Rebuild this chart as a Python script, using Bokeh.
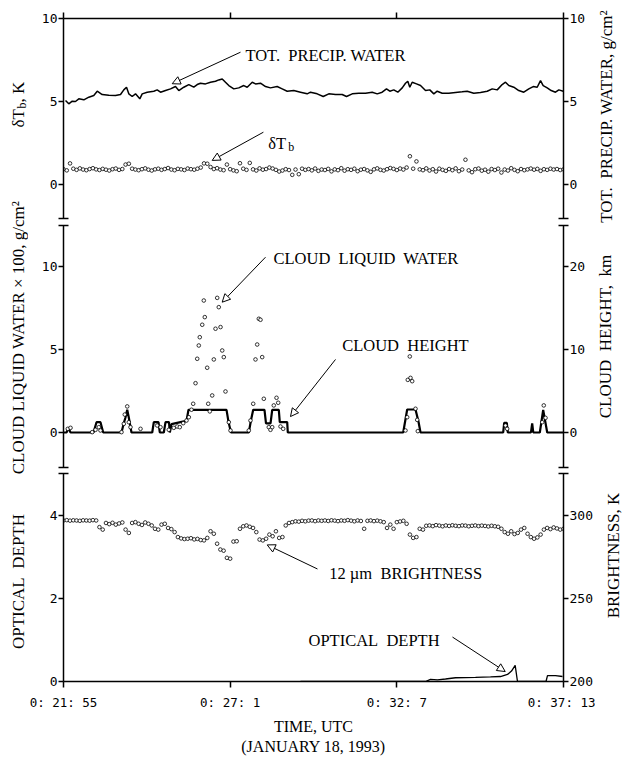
import math
from bokeh.plotting import figure
from bokeh.layouts import column, row
from bokeh.models import Range1d, LinearAxis, FixedTicker, Label, Arrow, NormalHead
from bokeh.embed import file_html
from bokeh.resources import INLINE

# ---------------- data (time in seconds after 0:21:55 UTC) ----------------
X_TICKS = [0, 306, 612, 918]
X_TICK_LABELS = ["0: 21: 55", "0: 27: 1", "0: 32: 7", "0: 37: 13"]

# total precipitable water, g/cm^2
tpw_t = [3.7, 9.7, 16.0, 22.0, 28.1, 37.3, 46.5, 55.6, 61.9, 71.0,
         83.2, 95.5, 104.7, 110.7, 115.7, 119.9, 126.1, 132.2, 140.1, 144.5,
         153.7, 165.8, 172.0, 178.1, 187.3, 196.5, 205.6, 211.7, 220.9, 230.1,
         239.2, 245.5, 251.5, 260.7, 269.9, 279.1, 285.1, 291.4, 297.4, 303.5,
         312.7, 321.8, 331.0, 337.3, 346.5, 352.5, 361.7, 370.9, 380.0, 392.3,
         401.5, 410.7, 422.8, 435.1, 447.4,
         453.5, 465.8, 476.8, 487.1, 499.4, 511.7, 519.6, 530.1, 542.2, 554.5,
         566.8, 576.0, 585.1, 593.0, 599.1, 606.4, 613.8, 621.9, 627.9, 632.1,
         635.8, 640.2, 648.1, 655.5, 664.7, 672.5, 679.9, 686.1, 695.3, 707.4,
         719.7, 732.0, 741.2, 753.3, 765.6, 777.9, 787.1, 796.3, 805.4, 811.5,
         817.6, 826.7, 835.9, 845.1, 854.3, 862.4, 869.7, 875.8, 880.7, 888.1,
         895.4, 903.3, 909.4, 917.5]
tpw_v = [5.06, 4.86, 5.02, 5.00, 5.16, 5.10, 5.26, 5.36, 5.62, 5.42,
         5.38, 5.36, 5.42, 5.70, 5.86, 5.46, 5.30, 5.46, 5.16, 5.46,
         5.56, 5.62, 5.70, 5.56, 5.66, 5.76, 5.90, 5.66, 5.86, 6.02,
         5.86, 6.02, 6.10, 6.06, 6.16, 6.22, 6.30, 6.36, 6.16, 5.96,
         5.76, 5.82, 5.96, 5.86, 6.16, 6.06, 6.10, 5.90, 5.82, 5.90,
         5.76, 5.62, 5.66, 5.56, 5.46,
         5.56, 5.46, 5.30, 5.46, 5.42, 5.42, 5.30, 5.46, 5.50, 5.50,
         5.56, 5.46, 5.56, 5.76, 5.62, 5.70, 5.56, 5.82, 6.10, 6.22,
         5.86, 6.16, 6.06, 5.96, 5.66, 5.70, 5.46, 5.62, 5.50, 5.50,
         5.54, 5.58, 5.62, 5.50, 5.54, 5.62, 5.76, 5.70, 6.02, 6.16,
         5.96, 5.86, 5.66, 5.56, 5.76, 5.90, 5.86, 6.26, 5.96, 5.82,
         5.66, 5.56, 5.70, 5.62]

# delta Tb, K  (one sample every 6 s)
DTB_STEP = 6
dtb_v = [0.92, 0.85, 1.27, 0.95, 0.88, 0.97, 0.90, 0.86, 0.93, 0.98,
         0.91, 0.87, 0.94, 0.89, 0.84, 0.92, 0.96, 0.88, 0.93, 1.20,
         1.25, 0.95, 0.90, 0.86, 0.92, 0.97, 0.89, 0.84, 0.91, 0.95,
         0.88, 0.93, 0.99, 0.90, 0.86, 0.94, 0.91, 0.87, 0.96, 0.92,
         0.89, 0.95, 1.02, 1.27, 1.25, 1.05, 0.93, 0.98, 0.90, 0.86,
         1.20, 0.92, 0.85, 0.80, 1.28, 0.95, 0.88, 1.30, 0.91, 0.84,
         0.97, 0.89, 0.93, 1.02, 0.96, 0.88, 0.78, 0.84, 0.92, 0.87,
         0.58, 0.90, 0.62, 0.95, 0.88, 0.93, 0.85, 0.96, 0.82, 0.90,
         0.87, 0.94, 0.79, 0.91, 0.86, 0.98, 0.83, 0.92, 0.88, 0.95,
         0.80, 0.89, 0.93, 0.85, 0.76, 0.91, 0.97, 0.88, 0.84, 0.92,
         0.99, 0.94, 0.87, 0.96, 0.90, 1.02, 1.70, 0.95, 1.39, 0.91,
         0.86, 0.97, 0.84, 0.92, 0.78, 0.95, 0.88, 0.82, 0.93, 0.86,
         0.97, 0.80, 0.90, 1.49, 0.85, 0.74, 0.92, 0.96, 0.83, 0.89,
         0.77, 0.93, 0.87, 0.95, 0.72, 0.90, 0.84, 0.98, 0.88, 0.80,
         0.93, 0.86, 0.91, 0.96, 0.89, 0.94, 0.82, 0.92, 0.88, 0.95,
         0.90, 0.93, 0.87, 0.91]

# cloud liquid water x 100, g/cm^2
clw_t = [7.9, 12.9, 52.7, 58.8, 64.8, 67.9, 106.5, 110.7, 112.5, 117.0,
         119.9, 123.0, 141.4, 172.0, 178.1, 193.3, 202.5, 208.8, 213.5, 219.8,
         225.8, 230.1, 235.0, 238.1, 242.4, 245.5, 248.4, 250.2, 254.7, 257.6,
         259.4, 263.8, 265.7, 268.6, 273.0, 276.0, 279.1, 282.2, 285.1, 288.3,
         291.4, 294.3, 297.4, 303.5, 306.6, 340.2, 343.3, 348.3, 352.5, 355.6,
         358.6, 361.7, 364.8, 367.8, 376.9, 380.0, 383.2, 386.1, 391.1, 394.2,
         398.4, 403.4, 627.9, 631.0, 632.1, 635.8, 637.1, 640.2, 646.3, 649.4,
         650.5, 811.5, 814.6, 878.9, 881.8, 885.0]
clw_v = [0.22, 0.28, 0.02, 0.16, 0.32, 0.12, 0.02, 0.52, 1.08, 1.57,
         0.62, 0.32, 0.22, 0.42, 0.32, 0.16, 0.28, 0.36, 0.32, 0.56,
         0.72, 0.92, 1.37, 1.73, 2.97, 4.44, 5.24, 5.74, 6.49, 7.95,
         6.95, 3.90, 1.73, 1.27, 2.23, 4.40, 6.25, 8.11, 7.55, 6.35,
         4.94, 4.54, 2.47, 0.62, 0.12, 0.12, 0.72, 1.73, 4.40, 5.30,
         6.85, 6.79, 4.54, 2.03, 0.32, 0.16, 0.32, 1.63, 2.09, 1.79,
         0.36, 0.22, 0.12, 0.92, 3.17, 4.58, 3.29, 3.09, 1.43, 0.76,
         0.08, 0.42, 0.22, 0.62, 1.63, 0.88]

# cloud height, km
ch_t = [0, 5.5, 9.2, 12.9, 55.1, 60.6, 67.9, 72.9, 106.5, 110.2,
        113.8, 117.0, 119.9, 122.1, 124.8, 162.9, 165.8, 174.4, 176.8, 184.2,
        187.3, 193.7, 195.2, 198.3, 214.8, 225.8, 229.5, 299.3, 302.9, 307.5,
        340.2, 344.3, 348.3, 369.0, 371.8, 380.1, 383.2, 395.3, 397.1, 410.7,
        411.8, 623.7, 631.0, 646.3, 651.8, 655.5, 807.3, 809.1, 813.9, 815.7,
        858.3, 860.5, 862.5, 874.5, 880.7, 888.1, 918]
ch_v = [0, 0, 0.5, 0, 0, 1.24, 1.24, 0, 0, 1.0,
        1.8, 2.73, 1.8, 1.0, 0, 0, 1.24, 1.24, 0, 0,
        1.24, 1.24, 0, 1.0, 1.24, 1.4, 2.73, 2.73, 1.3, 0,
        0, 1.5, 2.73, 2.73, 1.1, 1.1, 2.73, 2.73, 1.24, 1.24,
        0, 0, 2.77, 2.77, 1.3, 0, 0, 1.16, 1.16, 0,
        0, 1.1, 0, 0, 2.73, 0, 0]

# 12 um brightness temperature, K (one sample every 6 s)
TB_STEP = 6
tb_v = [297.0, 297.2, 296.9, 297.1, 297.0, 296.8, 297.1, 297.0, 296.9, 297.2,
        297.0, 293.0, 291.5, 295.5, 294.8, 295.6, 294.5, 295.2, 295.8, 291.5,
        289.5, 295.5, 296.0, 295.0, 294.3, 295.8, 295.0, 294.0, 292.0, 291.5,
        294.5, 295.0, 292.5, 291.8, 290.0, 287.0, 286.2, 285.8, 286.0, 286.3,
        285.6, 285.9, 285.2, 285.0, 286.5, 290.5, 289.0, 283.0, 279.5, 278.8,
        274.5, 274.0, 284.3, 284.5, 292.0, 293.5, 294.0, 293.2, 292.5, 290.0,
        285.5, 285.0, 286.0, 288.5, 287.5, 290.5, 286.5, 287.0, 294.0, 295.5,
        296.0, 296.5, 296.3, 296.8, 296.5, 296.9, 297.0, 296.6, 297.0, 296.8,
        297.0, 296.7, 297.1, 296.9, 296.6, 297.0, 296.8, 297.2, 296.9, 296.5,
        297.0, 296.7, 292.0, 296.8, 297.0, 296.6, 296.9, 296.5, 296.0, 292.5,
        294.5, 292.0, 296.0, 296.4, 296.8, 295.0, 288.5, 286.5, 287.0, 292.0,
        291.5, 293.8, 294.0, 293.6, 294.2, 293.9, 293.5, 294.0, 293.7, 294.1,
        293.8, 293.6, 294.0, 293.9, 293.5, 293.8, 294.0, 293.6, 293.9, 293.7,
        293.4, 293.8, 293.5, 293.2, 292.0, 290.0, 289.0, 290.5, 288.8, 289.5,
        291.5, 292.5, 289.0, 287.0, 286.0, 286.8, 288.5, 291.5, 292.5, 291.8,
        292.8, 292.2, 291.5, 292.0]

# optical depth
od_t = [435.1, 664.6, 673.8, 686.7, 701.4, 719.7, 756.4, 784.0, 802.3, 815.2,
        822.5, 829.3, 833.5, 885.9, 888.6, 903.3, 916.2]
od_v = [0.0, 0.0, 0.05, 0.04, 0.06, 0.09, 0.10, 0.11, 0.12, 0.17,
        0.25, 0.39, 0.0, 0.0, 0.14, 0.14, 0.12]

dtb_t = [i * DTB_STEP for i in range(len(dtb_v))]
tb_t = [i * TB_STEP for i in range(len(tb_v))]

# ---------------- styling helpers ----------------
SERIF = "Liberation Serif"
TICKFONT = "DejaVu Sans Mono"
TITLE_SIZE = "17px"
NOTE_SIZE = "16.5px"
SP = "\u00a0 "  # wide word gap as printed
xr = Range1d(0, 918)
LEFT_STRIP = 28
LEFT_BORDER = 63 - LEFT_STRIP
RIGHT_BORDER = 31
RIGHT_STRIP = 624 - 63 - 500 - RIGHT_BORDER


def make_fig(fh, top, bottom, yr, ryr):
    p = figure(frame_width=500, frame_height=fh, x_range=xr, y_range=yr,
               min_border_left=LEFT_BORDER, min_border_right=RIGHT_BORDER,
               min_border_top=top, min_border_bottom=bottom,
               x_axis_location=None, y_axis_location=None,
               toolbar_location=None, output_backend="svg",
               outline_line_color=None, background_fill_color="white",
               border_fill_color="white")
    p.extra_y_ranges = {"r": ryr}
    p.grid.visible = False
    return p


def yaxis(p, side, rname, ticks, minor):
    ax = LinearAxis(y_range_name=rname,
                    ticker=FixedTicker(ticks=ticks, minor_ticks=minor))
    ax.axis_line_width = 1.5
    ax.axis_line_color = "black"
    ax.major_tick_in = 0
    ax.major_tick_out = 5
    ax.major_tick_line_width = 1.5
    ax.minor_tick_in = 5
    ax.minor_tick_out = 5
    ax.minor_tick_line_width = 1.5
    ax.major_label_standoff = 1
    ax.major_label_text_font = TICKFONT
    ax.major_label_text_font_size = "13px"
    ax.major_label_text_color = "black"
    p.add_layout(ax, side)
    return ax


def label(p, x, y, text, size=NOTE_SIZE, **kw):
    p.add_layout(Label(x=x, y=y, text=text, text_font=SERIF, text_font_size=size,
                       text_color="black", text_baseline="alphabetic", **kw))


def arrow(p, x0, y0, x1, y1):
    p.add_layout(Arrow(x_start=x0, y_start=y0, x_end=x1, y_end=y1,
                       line_color="black", line_width=1,
                       end=NormalHead(size=8, fill_color="white",
                                      line_color="black", line_width=1)))


def scatter(p, x, y, **kw):
    p.scatter(x, y, marker="circle", size=3.6, fill_color="white",
              line_color="black", line_width=0.8, **kw)


def strip_fig(w):
    s = figure(width=w, height=757, x_range=Range1d(0, w),
               y_range=Range1d(757, 0), min_border_left=0, min_border_right=0,
               min_border_top=0, min_border_bottom=0,
               x_axis_location=None, y_axis_location=None,
               toolbar_location=None, output_backend="svg",
               outline_line_color=None, background_fill_color="white",
               border_fill_color="white")
    s.grid.visible = False
    return s


def vtext(s, x, y, text, size=TITLE_SIZE, align="center"):
    s.add_layout(Label(x=x, y=y, text=text, angle=math.pi / 2,
                       text_align=align, text_baseline="middle",
                       text_font=SERIF, text_font_size=size, text_color="black"))


# ---------------- top panel ----------------
top = make_fig(200, 18, 3, Range1d(-2.05, 10), Range1d(-2.05, 10))
ax_top = LinearAxis(ticker=FixedTicker(ticks=X_TICKS), major_tick_in=0, major_tick_out=6,
                    major_tick_line_width=1.5, axis_line_width=1.5,
                    major_label_overrides={t: "" for t in X_TICKS})
top.add_layout(ax_top, "above")
yaxis(top, "left", "default", [0, 5, 10], [-2.04])
yaxis(top, "right", "r", [0, 5, 10], [-2.04])
top.line(tpw_t, tpw_v, line_color="black", line_width=1.5)
scatter(top, dtb_t, dtb_v)
label(top, 334, 7.77, "TOT." + SP + "PRECIP. WATER")
arrow(top, 325, 7.97, 199.6, 6.07)
label(top, 376, 2.47, "δT")
label(top, 376, 2.47, "b", size="12px", x_offset=20, y_offset=-4)
arrow(top, 367, 3.15, 273, 1.45)

# ---------------- middle panel ----------------
mid = make_fig(242, 4, 3, Range1d(-2.11, 12.47), Range1d(-4.22, 24.94))
yaxis(mid, "left", "default", [0, 5, 10], [-2.10, 12.46])
yaxis(mid, "right", "r", [0, 10, 20], [-4.21, 24.93])
mid.line(ch_t, ch_v, y_range_name="r", line_color="black", line_width=2.2)
scatter(mid, clw_t, clw_v)
label(mid, 385.6, 10.48, "CLOUD" + SP + "LIQUID" + SP + "WATER")
arrow(mid, 370.9, 10.56, 291.4, 7.85)
label(mid, 511.7, 5.24, "CLOUD" + SP + "HEIGHT")
arrow(mid, 499.4, 4.40, 416.8, 0.96)

# ---------------- bottom panel ----------------
bot = make_fig(208, 3, 76, Range1d(0, 5.01), Range1d(200, 325.3))
xax = LinearAxis(ticker=FixedTicker(ticks=X_TICKS),
                 major_label_overrides={t: s for t, s in zip(X_TICKS, X_TICK_LABELS)},
                 axis_label="TIME, UTC\n(JANUARY 18, 1993)")
xax.axis_line_width = 1.5
xax.major_tick_in = 0
xax.major_tick_out = 6
xax.major_tick_line_width = 1.5
xax.major_label_standoff = 7
xax.major_label_text_font = TICKFONT
xax.major_label_text_font_size = "12.5px"
xax.major_label_text_color = "black"
xax.axis_label_text_font = SERIF
xax.axis_label_text_font_size = "16px"
xax.axis_label_text_font_style = "normal"
xax.axis_label_text_color = "black"
xax.axis_label_standoff = 5
bot.add_layout(xax, "below")
yaxis(bot, "left", "default", [0, 2, 4], [5.00])
yaxis(bot, "right", "r", [200, 250, 300], [325.2])
bot.line(od_t, od_v, line_color="black", line_width=1.3)
scatter(bot, tb_t, tb_v, y_range_name="r")
label(bot, 487.8, 2.60, "12 µm" + SP + "BRIGHTNESS")
arrow(bot, 466.3, 2.71, 374, 3.29)
label(bot, 449.8, 0.99, "OPTICAL" + SP + "DEPTH")
arrow(bot, 714.2, 1.07, 811, 0.24)

# ---------------- axis titles (read bottom to top) ----------------
left = strip_fig(LEFT_STRIP)
vtext(left, 18, 127, "δT", align="left")
vtext(left, 21, 108, "b", size="12px", align="left")
vtext(left, 18, 102, ", K", align="left")
vtext(left, 18, 337, "CLOUD LIQUID WATER × 100, g/cm²")
vtext(left, 18, 581, "OPTICAL" + SP + "DEPTH")

right = strip_fig(RIGHT_STRIP)
vtext(right, 11, 116, "TOT." + SP + "PRECIP. WATER, g/cm²")
vtext(right, 10, 336, "CLOUD" + SP + "HEIGHT," + SP + "km")
vtext(right, 18, 555, "BRIGHTNESS, K")

layout = row(left, column(top, mid, bot), right)
open("out.html", "w").write(file_html(layout, INLINE))
